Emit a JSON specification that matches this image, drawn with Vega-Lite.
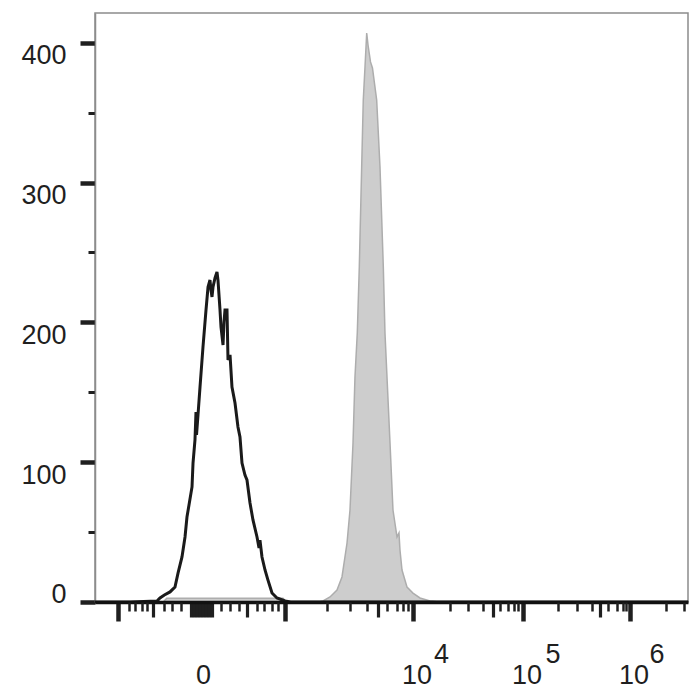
{
  "$schema": "https://vega.github.io/schema/vega-lite/v6.json",
  "autosize": {"type": "none"},
  "width": 593,
  "height": 589,
  "padding": {"left": 95, "top": 13, "right": 12, "bottom": 98},
  "background": "white",
  "config": {
    "view": {"stroke": "#8c8c8c", "strokeWidth": 1.5},
    "axis": {"grid": false, "labelFont": "Liberation Sans", "labelFontSize": 27, "labelColor": "#1f1f1f", "tickColor": "#1f1f1f"}
  },
  "datasets": {
    "stained": [
      {"channel": 0, "count": 0}, {"channel": 115, "count": 0}, {"channel": 121, "count": 2.7}, {"channel": 317, "count": 2.7},
      {"channel": 323, "count": 0}, {"channel": 378, "count": 0}, {"channel": 384.5, "count": 0.7}, {"channel": 396.3, "count": 3.6},
      {"channel": 408.1, "count": 8.6}, {"channel": 416.5, "count": 17.9}, {"channel": 425, "count": 42.2}, {"channel": 430, "count": 65.8},
      {"channel": 435.1, "count": 113.7}, {"channel": 438.4, "count": 160.9}, {"channel": 442.3, "count": 192.4}, {"channel": 445.7, "count": 239.6},
      {"channel": 449.7, "count": 311.2}, {"channel": 452.4, "count": 359.1}, {"channel": 455.3, "count": 382.7}, {"channel": 458.2, "count": 407},
      {"channel": 460.4, "count": 398.4}, {"channel": 464.6, "count": 386.3}, {"channel": 467.9, "count": 382}, {"channel": 475, "count": 359.1},
      {"channel": 480.6, "count": 311.2}, {"channel": 486.2, "count": 239.6}, {"channel": 489, "count": 192.4}, {"channel": 492.4, "count": 160.9},
      {"channel": 497.5, "count": 113.7}, {"channel": 502.5, "count": 65.8}, {"channel": 509.3, "count": 46.5}, {"channel": 512.6, "count": 49.4},
      {"channel": 514.3, "count": 37.2}, {"channel": 517.7, "count": 22.9}, {"channel": 526.1, "count": 10.7}, {"channel": 536.2, "count": 6.4},
      {"channel": 548, "count": 2.9}, {"channel": 564.9, "count": 0.7}, {"channel": 580, "count": 0}, {"channel": 1000, "count": 0}
    ],
    "control": [
      {"channel": 0, "count": 0}, {"channel": 60, "count": 0}, {"channel": 104.6, "count": 0.7}, {"channel": 109.6, "count": 2.9},
      {"channel": 117, "count": 5}, {"channel": 126.5, "count": 7.2}, {"channel": 134.9, "count": 10.7}, {"channel": 140, "count": 20.7},
      {"channel": 146.7, "count": 32.2}, {"channel": 151.8, "count": 46.5}, {"channel": 155.1, "count": 60.8}, {"channel": 158.5, "count": 69.4},
      {"channel": 163.6, "count": 82.3}, {"channel": 165.3, "count": 99.4}, {"channel": 168.6, "count": 115.9}, {"channel": 170.3, "count": 135.9},
      {"channel": 171.2, "count": 119.5}, {"channel": 173.7, "count": 133.8}, {"channel": 177.1, "count": 153.8}, {"channel": 182.1, "count": 182.4},
      {"channel": 187.2, "count": 208.9}, {"channel": 190.6, "count": 225.3}, {"channel": 193.9, "count": 230.3}, {"channel": 195.6, "count": 223.2},
      {"channel": 197.3, "count": 218.2}, {"channel": 199, "count": 225.3}, {"channel": 202.4, "count": 231.8}, {"channel": 205.7, "count": 236.1},
      {"channel": 207.4, "count": 230.3}, {"channel": 210.8, "count": 208.9}, {"channel": 212.5, "count": 196.7}, {"channel": 215.9, "count": 183.8},
      {"channel": 217.5, "count": 200}, {"channel": 219.2, "count": 208.9}, {"channel": 222.6, "count": 208.9}, {"channel": 224.3, "count": 173.1},
      {"channel": 227.7, "count": 176.7}, {"channel": 231, "count": 153.8}, {"channel": 236.1, "count": 142.3}, {"channel": 241.1, "count": 125.2},
      {"channel": 244.5, "count": 118}, {"channel": 247.9, "count": 99.4}, {"channel": 252.9, "count": 90.8}, {"channel": 256.3, "count": 87.3},
      {"channel": 261.4, "count": 70.8}, {"channel": 266.4, "count": 58.7}, {"channel": 273.2, "count": 46.5}, {"channel": 276.6, "count": 38.6},
      {"channel": 278.2, "count": 44.3}, {"channel": 281.6, "count": 32.2}, {"channel": 286.7, "count": 22.9}, {"channel": 291.7, "count": 15.7},
      {"channel": 298.5, "count": 6.4}, {"channel": 306.9, "count": 2.9}, {"channel": 320.4, "count": 0.7}, {"channel": 330, "count": 0},
      {"channel": 1000, "count": 0}
    ]
  },
  "resolve": {"axis": {"x": "independent"}},
  "layer": [
    {
      "data": {"name": "stained"},
      "mark": {"type": "area", "color": "#cdcdcd"},
      "encoding": {
        "x": {
          "field": "channel", "type": "quantitative",
          "scale": {"domain": [0, 1000], "nice": false, "zero": false},
          "axis": {
            "orient": "bottom", "title": null, "labels": false, "zindex": 1,
            "values": [38.8, 320.4, 536.2, 721.7, 902.2, 161.9, 166.9, 172.0, 177.1, 182.1, 187.2, 192.3, 197.3, 97.8, 256.3, 477.2, 671.1, 851.6],
            "domain": true, "domainColor": "#111111", "domainWidth": 3.5,
            "tickSize": {"condition": {"test": "indexof([38.8, 320.4, 536.2, 721.7, 902.2], datum.value) >= 0", "value": 19}, "value": 15},
            "tickWidth": {"condition": {"test": "indexof([38.8, 320.4, 536.2, 721.7, 902.2], datum.value) >= 0", "value": 4.5}, "value": 3.2}
          }
        },
        "y": {
          "field": "count", "type": "quantitative",
          "scale": {"domain": [0, 421.3], "nice": false},
          "axis": {
            "title": null,
            "values": [0, 25, 50, 75, 100, 125, 150, 175, 200, 225, 250, 275, 300, 325, 350, 375, 400],
            "domainColor": "#8c8c8c", "domainWidth": 1.5,
            "labelExpr": "datum.value % 100 === 0 ? datum.label : ''",
            "labelPadding": 14,
            "labelOverlap": false, "labelBound": false, "labelFlush": false,
            "labelBaseline": {"condition": {"test": "datum.value === 0", "value": "alphabetic"}, "value": "top"},
            "tickSize": {"condition": {"test": "datum.value % 100 === 0", "value": 15}, "value": 7},
            "tickWidth": {"condition": {"test": "datum.value % 100 === 0", "value": 4.5}, "value": 3}
          }
        }
      }
    },
    {
      "data": {"name": "stained"},
      "mark": {"type": "line", "color": "#adadad", "strokeWidth": 1.5},
      "encoding": {
        "x": {
          "field": "channel", "type": "quantitative",
          "axis": {
            "orient": "bottom", "title": null, "labels": false, "domain": false, "zindex": 1,
            "values": [57.8, 67.5, 78.8, 88.2, 116.4, 129.3, 144.5, 212.0, 227.6, 243.3, 272.7, 285.0, 298.0, 309.1, 391.7, 430.0, 458.2, 491.9, 508.8, 519.9, 527.8, 598.6, 629.5, 653.8, 683.0, 697.0, 706.5, 713.3, 781.3, 812.3, 837.6, 865.6, 879.7, 890.9, 896.2, 962.4, 993.3],
            "tickSize": 9, "tickWidth": 2.5
          }
        },
        "y": {"field": "count", "type": "quantitative"}
      }
    },
    {
      "data": {"name": "control"},
      "mark": {"type": "line", "color": "#1a1a1a", "strokeWidth": 3},
      "encoding": {
        "x": {
          "field": "channel", "type": "quantitative",
          "axis": {
            "orient": "bottom", "title": null, "ticks": false, "domain": false, "tickSize": 0,
            "values": [182.1, 542.1, 583.5, 727.6, 771.5, 908.1, 946.9],
            "labelExpr": "datum.value == 182.1 ? '0' : datum.value == 583.5 ? '4' : datum.value == 771.5 ? '5' : datum.value == 946.9 ? '6' : '10'",
            "labelPadding": 60,
            "labelOverlap": false, "labelBound": false, "labelFlush": false,
            "labelBaseline": {"condition": {"test": "datum.value == 583.5 || datum.value == 771.5 || datum.value == 946.9", "value": "alphabetic"}, "value": "top"}
          }
        },
        "y": {"field": "count", "type": "quantitative"}
      }
    }
  ]
}
